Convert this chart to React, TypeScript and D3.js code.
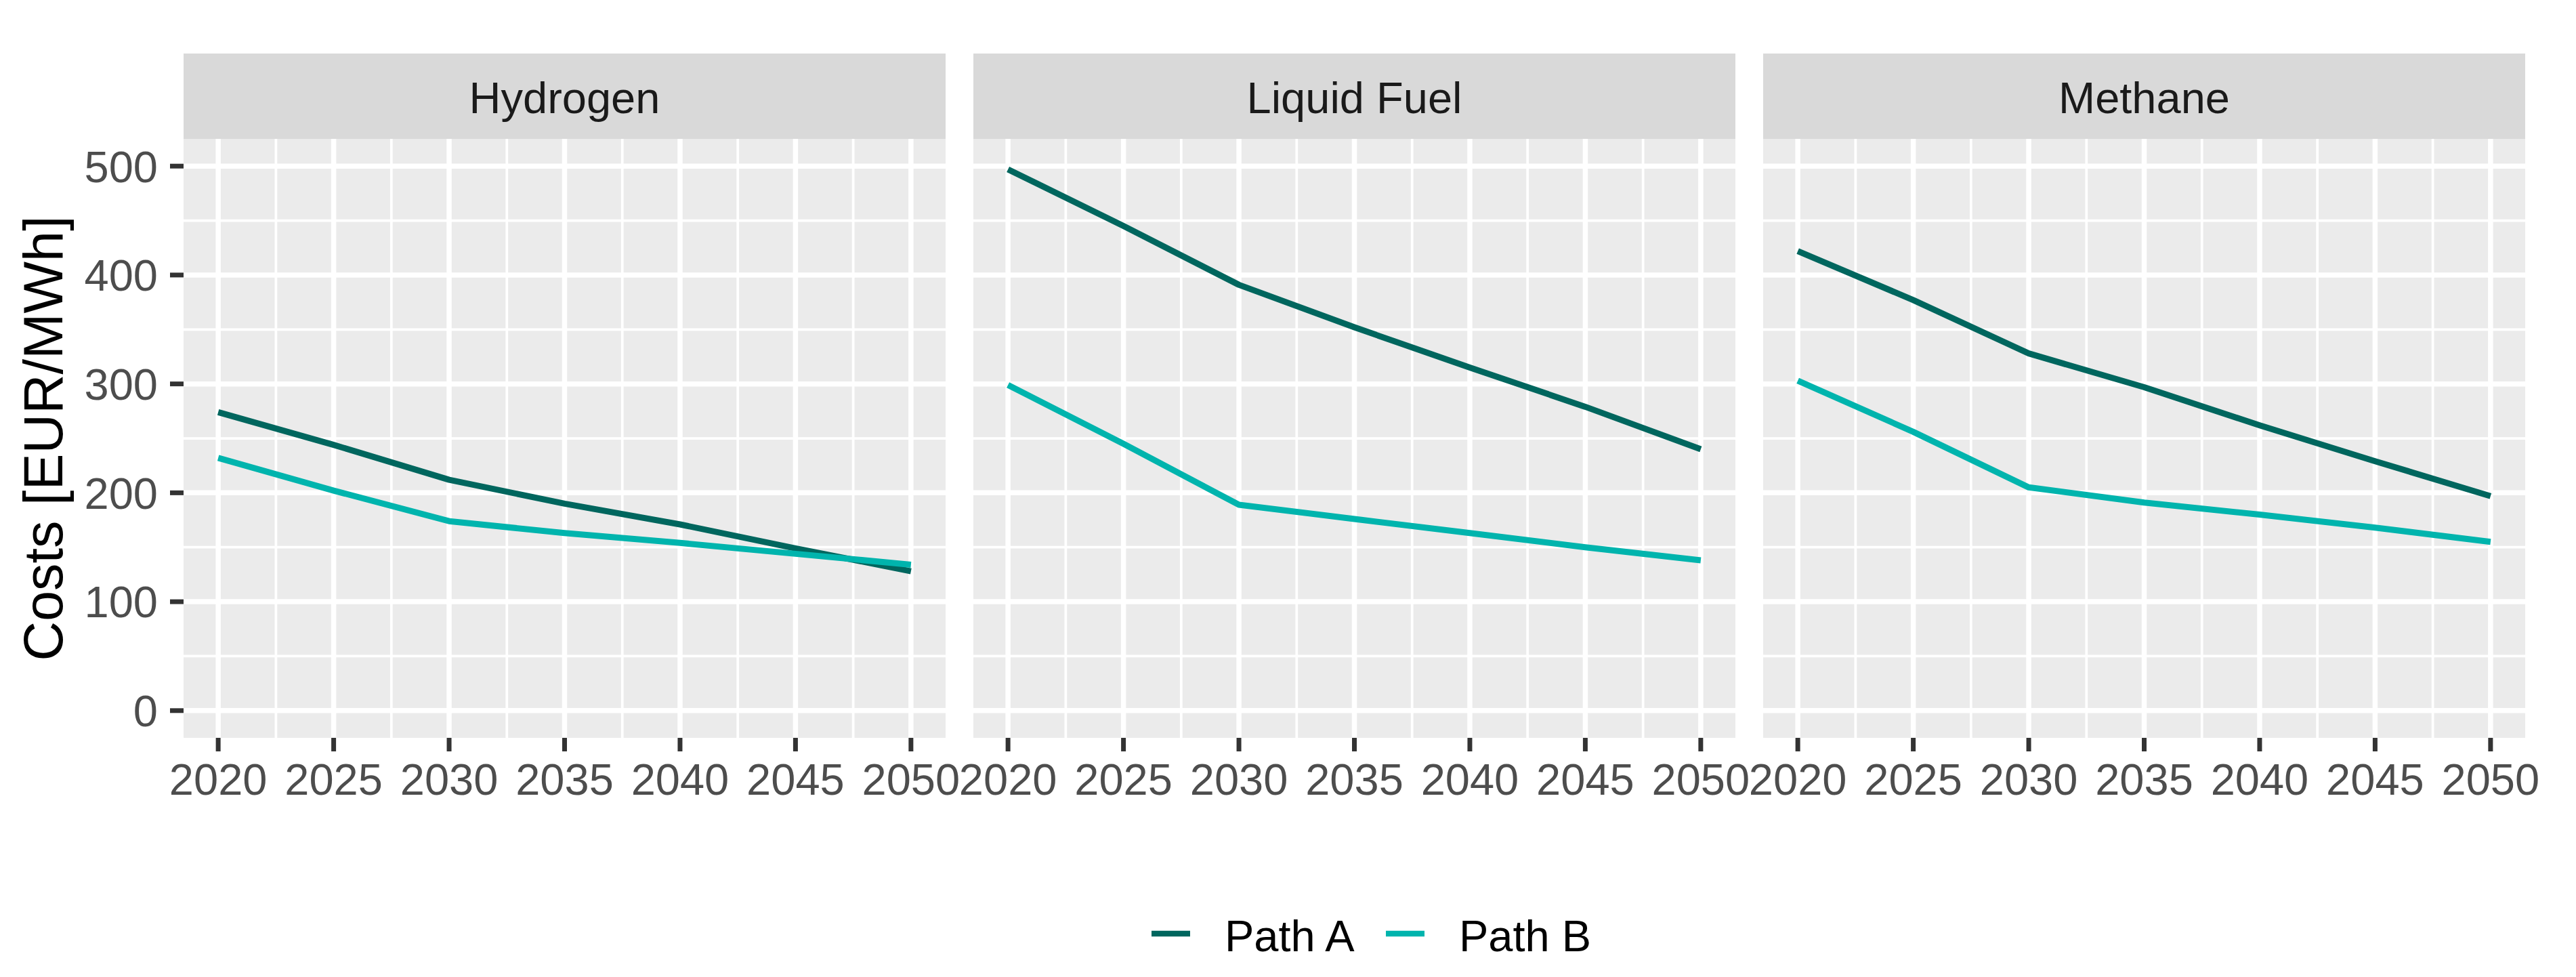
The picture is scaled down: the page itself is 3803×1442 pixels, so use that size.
import { useMemo } from "react";
import * as d3 from "d3";

// values (EUR/MWh), one point every 5 years
const years = [2020, 2025, 2030, 2035, 2040, 2045, 2050];
const carriers = ["Hydrogen", "Liquid Fuel", "Methane"];
const paths = ["Path A", "Path B"];

const hydrogenPathA = [274, 244, 212, 190, 171, 149, 128];
const hydrogenPathB = [232, 202, 174, 163, 154, 144, 134];
const liquidFuelPathA = [497, 445, 391, 352, 315, 279, 240];
const liquidFuelPathB = [299, 245, 189, 176, 163, 150, 138];
const methanePathA = [422, 377, 328, 297, 262, 229, 197];
const methanePathB = [303, 256, 205, 191, 180, 168, 155];

const yTicks = [0, 100, 200, 300, 400, 500];
const yMinor = [50, 150, 250, 350, 450];
const xTicks = [2020, 2025, 2030, 2035, 2040, 2045, 2050];
const xMinor = [2022.5, 2027.5, 2032.5, 2037.5, 2042.5, 2047.5];

const seriesByCarrier = [
  [hydrogenPathA, hydrogenPathB],
  [liquidFuelPathA, liquidFuelPathB],
  [methanePathA, methanePathB],
];

const COLORS = ["#00665E", "#00B4AD"];
const FONT = "'Liberation Sans', Arial, Helvetica, sans-serif";

const WIDTH = 3803;
const HEIGHT = 1442;
const PANEL = { left: 271, width: 1125, gap: 41, top: 205, bottom: 1089 };
const STRIP = { top: 79, height: 126 };

export default function App() {
  // shared scales for all facets (x in panel-local coords)
  const xScale = useMemo(
    () => d3.scaleLinear().domain([2018.5, 2051.5]).range([0, PANEL.width]),
    []
  );
  const yScale = useMemo(
    () => d3.scaleLinear().domain([-25, 525]).range([PANEL.bottom, PANEL.top]),
    []
  );

  const lineGen = d3
    .line<number>()
    .x((_, i) => xScale(years[i]))
    .y((d) => yScale(d));

  const panelH = PANEL.bottom - PANEL.top;

  return (
    <svg
      width={WIDTH}
      height={HEIGHT}
      style={{ position: "absolute", left: 0, top: 0, background: "#fff" }}
      fontFamily={FONT}
    >
      <rect width={WIDTH} height={HEIGHT} fill="#fff" />

      {carriers.map((name, p) => {
        const x0 = PANEL.left + p * (PANEL.width + PANEL.gap);
        return (
          <g key={name} transform={`translate(${x0},0)`}>
            {/* strip */}
            <rect x={0} y={STRIP.top} width={PANEL.width} height={STRIP.height} fill="#D9D9D9" />
            <text x={PANEL.width / 2} y={167} textAnchor="middle" fontSize={65} fill="#1A1A1A">
              {name}
            </text>

            {/* panel + grid */}
            <rect x={0} y={PANEL.top} width={PANEL.width} height={panelH} fill="#EBEBEB" />
            {yMinor.map((v) => (
              <line key={"ym" + v} x1={0} x2={PANEL.width} y1={yScale(v)} y2={yScale(v)} stroke="#fff" strokeWidth={3.75} />
            ))}
            {xMinor.map((v) => (
              <line key={"xm" + v} x1={xScale(v)} x2={xScale(v)} y1={PANEL.top} y2={PANEL.bottom} stroke="#fff" strokeWidth={3.75} />
            ))}
            {yTicks.map((v) => (
              <line key={"y" + v} x1={0} x2={PANEL.width} y1={yScale(v)} y2={yScale(v)} stroke="#fff" strokeWidth={7.5} />
            ))}
            {xTicks.map((v) => (
              <line key={"x" + v} x1={xScale(v)} x2={xScale(v)} y1={PANEL.top} y2={PANEL.bottom} stroke="#fff" strokeWidth={7.5} />
            ))}

            {/* data */}
            {seriesByCarrier[p].map((vals, s) => (
              <path
                key={paths[s]}
                d={lineGen(vals) || ""}
                fill="none"
                stroke={COLORS[s]}
                strokeWidth={9}
                strokeLinejoin="round"
              />
            ))}

            {/* x axis */}
            {xTicks.map((v) => (
              <g key={"xt" + v}>
                <line x1={xScale(v)} x2={xScale(v)} y1={PANEL.bottom} y2={PANEL.bottom + 20} stroke="#333333" strokeWidth={7} />
                <text x={xScale(v)} y={1173} textAnchor="middle" fontSize={65} fill="#4D4D4D">
                  {v}
                </text>
              </g>
            ))}
          </g>
        );
      })}

      {/* y axis, first panel only */}
      {yTicks.map((v) => (
        <g key={"yt" + v}>
          <line x1={PANEL.left - 20} x2={PANEL.left} y1={yScale(v)} y2={yScale(v)} stroke="#333333" strokeWidth={7} />
          <text x={233} y={yScale(v)} dy="0.36em" textAnchor="end" fontSize={65} fill="#4D4D4D">
            {v}
          </text>
        </g>
      ))}
      <text
        transform={`translate(92,${(PANEL.top + PANEL.bottom) / 2}) rotate(-90)`}
        textAnchor="middle"
        fontSize={81}
        fill="#000"
      >
        Costs [EUR/MWh]
      </text>

      {/* legend */}
      {paths.map((name, i) => {
        const kx = i === 0 ? 1700 : 2046;
        return (
          <g key={name}>
            <line x1={kx} x2={kx + 57} y1={1378} y2={1378} stroke={COLORS[i]} strokeWidth={8.5} />
            <text x={kx + 108} y={1404} fontSize={65} fill="#000">
              {name}
            </text>
          </g>
        );
      })}
    </svg>
  );
}
